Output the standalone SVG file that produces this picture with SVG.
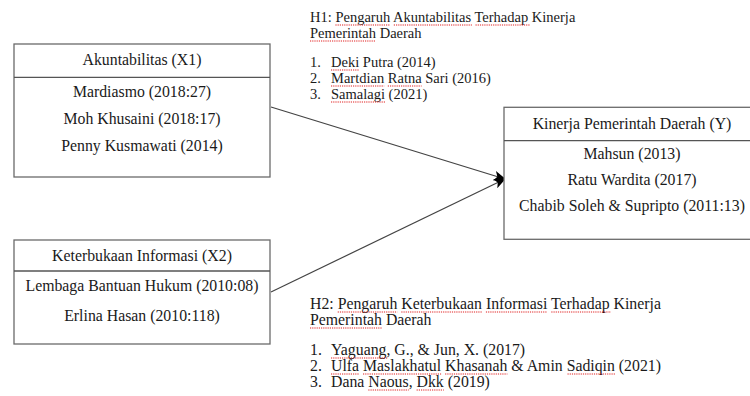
<svg xmlns="http://www.w3.org/2000/svg" width="750" height="396" viewBox="0 0 750 396">
<style>
text{font-family:"Liberation Serif","Times New Roman",Times,"DejaVu Serif",serif;fill:#1a1a1a}
.box{fill:#fff;stroke:#6a6a6a;stroke-width:1.3}
.sep{stroke:#555;stroke-width:1.3}
.bt{font-size:15.8px;text-anchor:middle}
.ht{font-size:14.5px}
.h2{font-size:15.8px}
.ul{stroke:#e02020;stroke-width:1.2;stroke-dasharray:1.2 1;fill:none}
.con{stroke:#444;stroke-width:1.2;fill:none}
</style>
<defs>
<marker id="ah" markerWidth="12" markerHeight="10" refX="11" refY="5" orient="auto" markerUnits="userSpaceOnUse">
<path d="M0,0 L12,5 L0,10 L3,5 Z" fill="#000"/>
</marker>
</defs>
<g id="connectors">
<line class="con" x1="271" y1="107" x2="505" y2="179" marker-end="url(#ah)"/>
<line class="con" x1="271" y1="292" x2="505" y2="179" marker-end="url(#ah)"/>
</g>
<g id="x1">
<rect class="box" x="14" y="44" width="256" height="133"/>
<line class="sep" x1="14" y1="77.3" x2="270" y2="77.3"/>
<text class="bt" x="142" y="65">Akuntabilitas (X1)</text>
<text class="bt" x="142" y="97">Mardiasmo (2018:27)</text>
<text class="bt" x="142" y="124">Moh Khusaini (2018:17)</text>
<text class="bt" x="142" y="151">Penny Kusmawati (2014)</text>
</g>
<g id="x2">
<rect class="box" x="14" y="240" width="256" height="104"/>
<line class="sep" x1="14" y1="271" x2="270" y2="271"/>
<text class="bt" x="142" y="261">Keterbukaan Informasi (X2)</text>
<text class="bt" x="142" y="291">Lembaga Bantuan Hukum (2010:08)</text>
<text class="bt" x="142" y="321">Erlina Hasan (2010:118)</text>
</g>
<g id="y">
<rect class="box" x="504" y="107.3" width="256" height="132"/>
<line class="sep" x1="504" y1="140.7" x2="760" y2="140.7"/>
<text class="bt" x="632" y="129">Kinerja Pemerintah Daerah (Y)</text>
<text class="bt" x="632" y="159">Mahsun (2013)</text>
<text class="bt" x="632" y="185">Ratu Wardita (2017)</text>
<text class="bt" x="632" y="211">Chabib Soleh &amp; Supripto (2011:13)</text>
</g>
<g id="h1">
<text class="ht" x="310" y="22">H1: <tspan>Pengaruh</tspan> <tspan>Akuntabilitas</tspan> <tspan>Terhadap</tspan> Kinerja</text>
<text class="ht" x="310" y="38"><tspan>Pemerintah</tspan> Daerah</text>
<text class="ht" x="310" y="67">1.</text><text class="ht" x="331" y="67"><tspan>Deki</tspan> Putra (2014)</text>
<text class="ht" x="310" y="83">2.</text><text class="ht" x="331" y="83"><tspan>Martdian</tspan> <tspan>Ratna</tspan> Sari (2016)</text>
<text class="ht" x="310" y="99">3.</text><text class="ht" x="331" y="99"><tspan>Samalagi</tspan> (2021)</text>
<path class="ul" d="M335.4,25 H390.2 M393.8,25 H471.9 M475.5,25 H530.3 M310,41 H376 M331,70 H359.2 M331,86 H384.2 M387.8,86 H421.6 M331,102 H385"/>
</g>
<g id="h2">
<text class="h2" x="310" y="309">H2: <tspan>Pengaruh</tspan> <tspan>Keterbukaan</tspan> <tspan>Informasi</tspan> <tspan>Terhadap</tspan> Kinerja</text>
<text class="h2" x="310" y="325"><tspan>Pemerintah</tspan> Daerah</text>
<text class="h2" x="310" y="355">1.</text><text class="h2" x="331" y="355"><tspan>Yaguang</tspan>, G., &amp; Jun, X. (2017)</text>
<text class="h2" x="310" y="371">2.</text><text class="h2" x="331" y="371"><tspan>Ulfa</tspan> <tspan>Maslakhatul</tspan> <tspan>Khasanah</tspan> &amp; Amin <tspan>Sadiqin</tspan> (2021)</text>
<text class="h2" x="310" y="387">3.</text><text class="h2" x="331" y="387">Dana <tspan>Naous</tspan>, <tspan>Dkk</tspan> (2019)</text>
<path class="ul" d="M337.7,312 H397.3 M401.3,312 H482 M485.9,312 H547.3 M551.3,312 H611 M310,328 H382 M331,358 H388 M331,374 H359.1 M363,374 H441.1 M445.1,374 H507.4 M567.5,374 H615.8 M368.3,390 H408.7 M416.6,390 H443.8"/>
</g>
</svg>
